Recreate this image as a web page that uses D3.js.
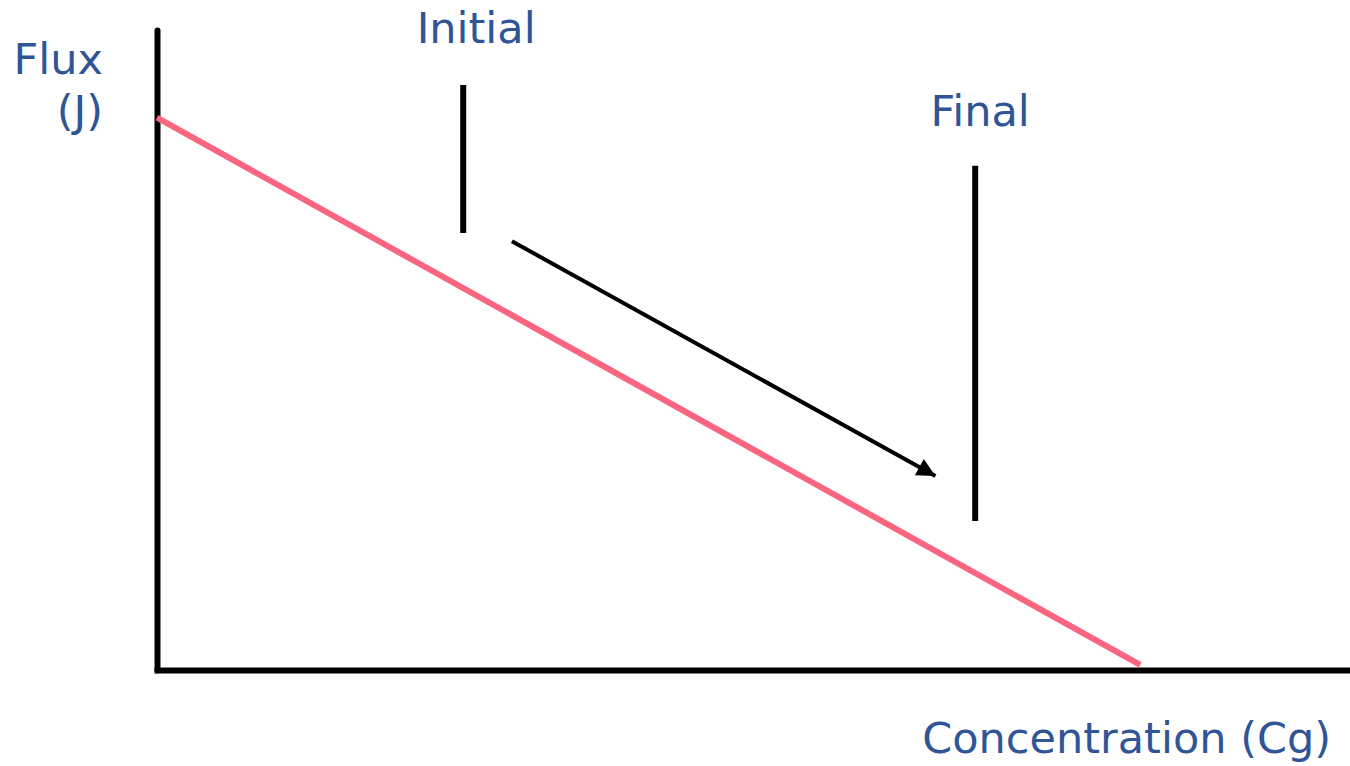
<!DOCTYPE html>
<html>
<head>
<meta charset="utf-8">
<script src="https://cdn.jsdelivr.net/npm/d3@7"></script>
<style>
  html, body { margin: 0; padding: 0; background: #fff; }
  svg { display: block; }
  .label { font-family: "DejaVu Sans", Verdana, sans-serif; font-size: 43px; fill: #2F5597; }
</style>
</head>
<body>
<div id="chart"></div>
<script>
// values in chart units (x: concentration 0-12, y: flux 0-10)
const fluxLine = [
  { c: 0, j: 8.63 },
  { c: 9.89, j: 0.08 },
];
const markers = [
  { name: "Initial", c: 3.08, top: 9.14, bottom: 6.83, labelC: 3.21, labelJ: 9.8 },
  { name: "Final", c: 8.23, top: 7.88, bottom: 2.33, labelC: 8.28, labelJ: 8.5 },
];
const arrow = [
  { c: 3.57, j: 6.70 },
  { c: 7.83, j: 3.03 },
];
const axisTitles = { x: "Concentration (Cg)", y: ["Flux", "(J)"] };

const width = 1350, height = 766;
const svg = d3.select("#chart").append("svg").attr("width", width).attr("height", height);

const x = d3.scaleLinear().domain([0, 12]).range([157, 1350]);
const y = d3.scaleLinear().domain([0, 10]).range([670, 30]);

svg.append("defs").append("marker")
  .attr("id", "head")
  .attr("viewBox", "0 0 10 10")
  .attr("refX", 10).attr("refY", 5)
  .attr("markerWidth", 5.5).attr("markerHeight", 4.6)
  .attr("markerUnits", "strokeWidth")
  .attr("orient", "auto")
  .append("path").attr("d", "M0,0L10,5L0,10Z").attr("fill", "#000");

// axes without ticks
const yAxis_g = svg.append("g").attr("transform", `translate(${x(0)},0)`)
  .call(d3.axisLeft(y).ticks(0).tickSizeOuter(0));
const xAxis_g = svg.append("g").attr("transform", `translate(0,${y(0)})`)
  .call(d3.axisBottom(x).ticks(0).tickSizeOuter(0));
yAxis_g.select(".domain").attr("stroke", "#000").attr("stroke-width", 6).attr("stroke-linecap", "round");
xAxis_g.select(".domain").attr("stroke", "#000").attr("stroke-width", 6).attr("stroke-linecap", "square");

const line = d3.line().x((d) => x(d.c)).y((d) => y(d.j));

svg.append("path").datum(fluxLine)
  .attr("d", line)
  .attr("fill", "none")
  .attr("stroke", "#FA6580")
  .attr("stroke-width", 6);

svg.selectAll(".marker-line").data(markers).enter().append("line")
  .attr("class", "marker-line")
  .attr("x1", (d) => x(d.c)).attr("x2", (d) => x(d.c))
  .attr("y1", (d) => y(d.top)).attr("y2", (d) => y(d.bottom))
  .attr("stroke", "#000").attr("stroke-width", 6);

svg.selectAll(".marker-label").data(markers).enter().append("text")
  .attr("class", "label marker-label")
  .attr("x", (d) => x(d.labelC)).attr("y", (d) => y(d.labelJ))
  .attr("text-anchor", "middle")
  .text((d) => d.name);

svg.append("path").datum(arrow)
  .attr("d", line)
  .attr("fill", "none")
  .attr("stroke", "#000")
  .attr("stroke-width", 4)
  .attr("marker-end", "url(#head)");

svg.append("text").attr("class", "label")
  .attr("x", 1331).attr("y", 753)
  .attr("text-anchor", "end")
  .text(axisTitles.x);

svg.selectAll(".ytitle").data(axisTitles.y).enter().append("text")
  .attr("class", "label ytitle")
  .attr("x", 103).attr("y", (d, i) => 74 + i * 52)
  .attr("text-anchor", "end")
  .text((d) => d);
</script>
</body>
</html>
